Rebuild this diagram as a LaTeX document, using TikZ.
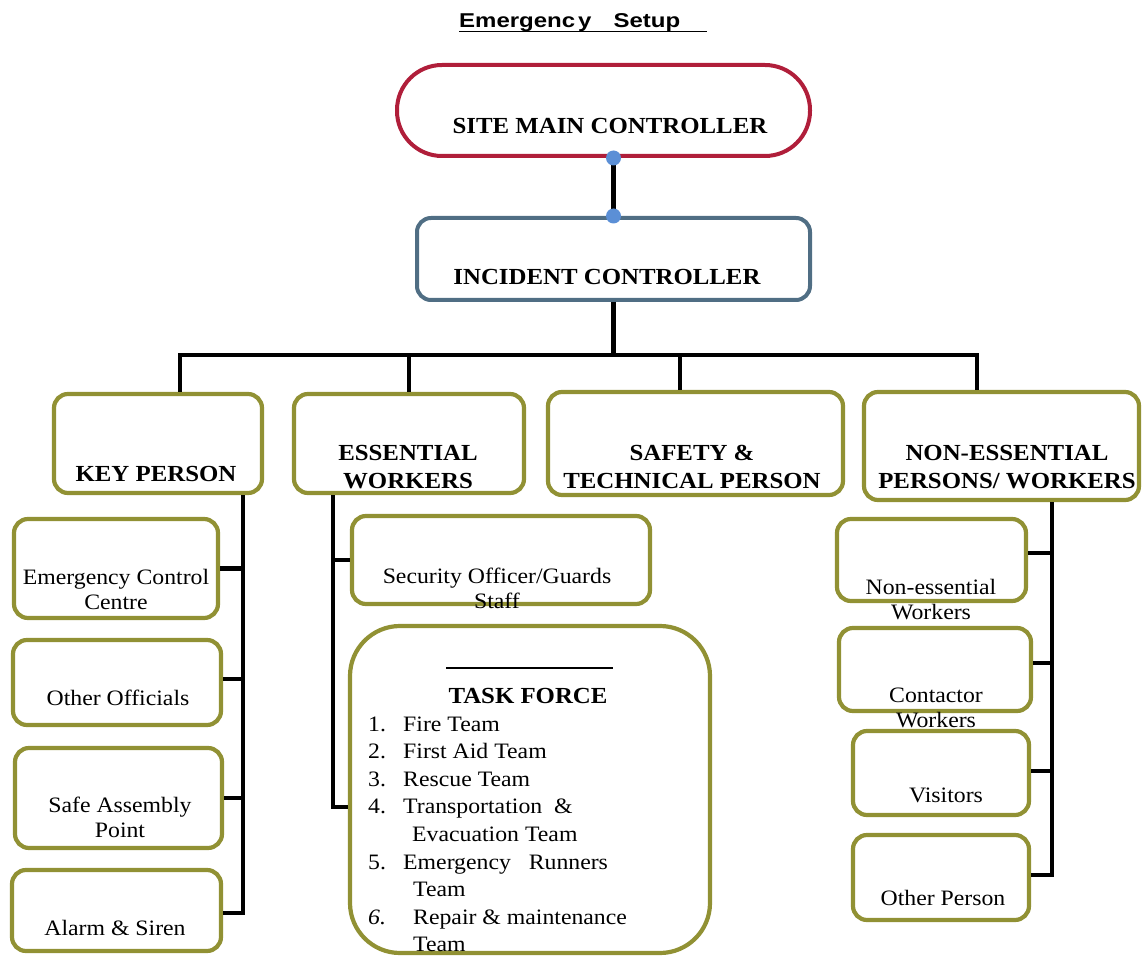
\documentclass[tikz,border=0pt]{standalone}
\usepackage{fontspec}
\setmainfont{Liberation Serif}[FakeStretch=1.08]
\newfontfamily\titlefont{Liberation Sans}[FakeStretch=1.2]
\usetikzlibrary{positioning}
\definecolor{smcred}{RGB}{176,30,58}
\definecolor{icgrey}{RGB}{80,110,132}
\definecolor{boxolive}{RGB}{145,145,52}
\definecolor{dotblue}{RGB}{91,143,214}

\begin{document}
\begin{tikzpicture}[x=1pt,y=-1pt,
  box/.style={draw=boxolive, line width=4.2pt, rounded corners=14pt, inner sep=0pt},
  head/.style={font=\bfseries\fontsize{23}{28}\selectfont, align=center, inner sep=0pt, text depth=0pt, anchor=south},
  txt/.style={font=\fontsize{22}{25.5}\selectfont, align=center, inner sep=0pt, text depth=0pt, anchor=south},
  link/.style={line width=4.2pt, black}]
\useasboundingbox (0,0) rectangle (1146,957);

\node[inner sep=0pt, anchor=base west, font=\titlefont\bfseries\fontsize{20}{24}\selectfont] (title) at (459,28) {Emergenc\hspace{3pt}y\hspace{22pt}Setup};
\draw[line width=1.3pt] ([yshift=-3.5pt]title.base west) -- ++(248,0);

\node[draw=smcred, line width=4pt, rounded corners=45pt, minimum width=413pt, minimum height=91pt] (smc) at (603.5,110.5) {};
\node[draw=icgrey, line width=4pt, rounded corners=14pt, minimum width=393pt, minimum height=82pt] (ic) at (613.5,259) {};
\node[head] (smc-t) at (610,134) {SITE MAIN CONTROLLER};
\node[head] (ic-t) at (607,285) {INCIDENT CONTROLLER};

\node[box, minimum width=208pt, minimum height=99pt] (kp) at (158,443.5) {};
\node[box, minimum width=230pt, minimum height=99pt] (ew) at (409,443.5) {};
\node[box, minimum width=295pt, minimum height=103pt] (st) at (695.5,443.5) {};
\node[box, minimum width=275pt, minimum height=108pt] (ne) at (1001.5,446) {};
\node[head] (kp-t) at (156,482) {KEY PERSON};
\node[head] (ew-t) at (408,489) {ESSENTIAL\\WORKERS};
\node[head] (st-t) at (692,489) {SAFETY \&\\TECHNICAL PERSON};
\node[head] (ne-t) at (1007,489) {NON-ESSENTIAL\\PERSONS/ WORKERS};

\node[box, minimum width=204pt, minimum height=99pt] (ecc) at (116,568.5) {};
\node[box, minimum width=208pt, minimum height=85pt] (oo) at (117,682.5) {};
\node[box, minimum width=207pt, minimum height=100pt] (sap) at (118.5,798) {};
\node[box, minimum width=209pt, minimum height=81pt] (as) at (116.5,910.5) {};
\node[txt] (ecc-t) at (116,610) {Emergency Control\\Centre};
\node[txt] (oo-t) at (118,706) {Other Officials};
\node[txt] (sap-t) at (120,838) {Safe Assembly\\Point};
\node[txt] (as-t) at (115,936) {Alarm \& Siren};

\node[box, minimum width=298pt, minimum height=88pt] (sec) at (501,560) {};
\node[box, rounded corners=50pt, minimum width=360pt, minimum height=327pt] (tf) at (530,789.5) {};
\node[txt] (sec-t) at (497,609) {Security Officer/Guards\\Staff};
\draw[line width=1.6pt] (446,668) -- (613,668);
\node[head, anchor=base] (tf-t) at (528,703) {TASK FORCE};
\node[font=\fontsize{22}{27.6}\selectfont, align=left, inner sep=0pt, text depth=0pt, anchor=south west] (tf-list) at (368,952)
  {\makebox[35pt][l]{1.}Fire Team\\
   \makebox[35pt][l]{2.}First Aid Team\\
   \makebox[35pt][l]{3.}Rescue Team\\
   \makebox[35pt][l]{4.}Transportation \ \&\\
   \hspace*{44pt}Evacuation Team\\
   \makebox[35pt][l]{5.}Emergency \ \ Runners\\
   \hspace*{45pt}Team\\
   \makebox[45pt][l]{\textit{6.}}Repair \& maintenance\\
   \hspace*{45pt}Team};

\node[box, minimum width=189pt, minimum height=82pt] (new) at (931.5,560) {};
\node[box, minimum width=192pt, minimum height=83pt] (cw) at (935,669.5) {};
\node[box, minimum width=176pt, minimum height=84pt] (vis) at (941,773) {};
\node[box, minimum width=176pt, minimum height=85pt] (op) at (941,877.5) {};
\node[txt] (new-t) at (931,620) {Non-essential\\Workers};
\node[txt] (cw-t) at (936,728) {Contactor\\Workers};
\node[txt] (vis-t) at (946,803) {Visitors};
\node[txt] (op-t) at (943,906) {Other Person};

\draw[link, line width=5pt] (ic.north |- smc.south) -- (ic.north);
\fill[dotblue] (ic.north |- smc.south) circle (7.5pt);
\fill[dotblue] (ic.north) circle (7.5pt);

\path (ic.south) ++(0,53) coordinate (bus);
\draw[link] (ic.south) -- (bus);
\draw[link] ([xshift=22pt]kp.north) |- ([xshift=-24.5pt]ne.north |- bus) -- ([xshift=-24.5pt]ne.north);
\draw[link] (ew.north |- bus) -- (ew.north);
\draw[link] ([xshift=-15.5pt]st.north |- bus) -- ([xshift=-15.5pt]st.north);

\coordinate (kptrunk) at ([xshift=85pt]kp.south);
\draw[link] (kptrunk) |- ([yshift=-2.5pt]as.east);
\draw[link] (ecc.east) -- (ecc.east -| kptrunk);
\draw[link] ([yshift=3.5pt]oo.east) -- ([yshift=3.5pt]oo.east -| kptrunk);
\draw[link] (sap.east) -- (sap.east -| kptrunk);

\coordinate (ewtrunk) at ([xshift=-76pt]ew.south);
\draw[link] (ewtrunk) |- ([yshift=-17.5pt]tf.west);
\draw[link] (sec.west) -- (sec.west -| ewtrunk);

\coordinate (netrunk) at ([xshift=50.5pt]ne.south);
\draw[link] (netrunk) |- ([yshift=2.5pt]op.east);
\draw[link] ([yshift=7pt]new.east) -- ([yshift=7pt]new.east -| netrunk);
\draw[link] ([yshift=6.5pt]cw.east) -- ([yshift=6.5pt]cw.east -| netrunk);
\draw[link] ([yshift=2pt]vis.east) -- ([yshift=2pt]vis.east -| netrunk);
\end{tikzpicture}
\end{document}
